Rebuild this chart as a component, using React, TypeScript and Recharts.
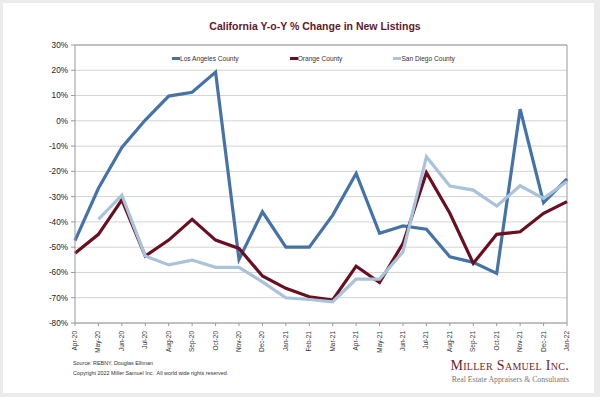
import React from 'react';
import { LineChart, Line, XAxis, YAxis, CartesianGrid, ReferenceLine } from 'recharts';

const categories = ['Apr-20','May-20','Jun-20','Jul-20','Aug-20','Sep-20','Oct-20','Nov-20','Dec-20','Jan-21','Feb-21','Mar-21','Apr-21','May-21','Jun-21','Jul-21','Aug-21','Sep-21','Oct-21','Nov-21','Dec-21','Jan-22'];
const losAngeles = [-47.4,-26.7,-10.5,0.3,9.8,11.3,19.3,-54.8,-36,-50,-50,-37.3,-20.8,-44.5,-41.6,-42.9,-53.8,-56,-60.4,4.6,-32.4,-23];
const orange = [-52.4,-44.9,-31.3,-53.5,-47.2,-39,-47.2,-50.5,-61.4,-66.3,-69.6,-70.9,-57.5,-64,-48.5,-20.5,-36.6,-56.4,-44.9,-43.9,-36.6,-32];
const sanDiego: (number | null)[] = [null,-39,-29.4,-53.5,-57,-55.1,-58,-58,-63.7,-70,-70.7,-71.6,-62.6,-62.6,-51.8,-14.2,-25.8,-27.4,-33.7,-25.7,-30.7,-24];
const yTicks = [30,20,10,0,-10,-20,-30,-40,-50,-60,-70,-80];

const seriesNames = ['Los Angeles County', 'Orange County', 'San Diego County'];
const seriesColors = ['#4573a7', '#6a0f22', '#a8c3da'];

const data = categories.map((c, i) => ({
  month: c,
  la: losAngeles[i],
  oc: orange[i],
  sd: sanDiego[i],
}));

const FONT = '"Liberation Sans", Arial, sans-serif';

const XTick = (props: any) => {
  const { x, y, payload } = props;
  return (
    <text
      transform={`translate(${x + 2},${y + 3}) rotate(-90)`}
      textAnchor="end"
      fontSize={6.5}
      fill="#333"
      fontFamily={FONT}
    >
      {payload.value}
    </text>
  );
};

export default function App() {
  return (
    <div style={{ position: 'fixed', left: 0, top: 0, width: 600, height: 397, background: '#ebebeb', overflow: 'hidden' }}>
      <div style={{ position: 'absolute', left: 3, top: 3, width: 591, height: 390, background: '#fff' }} />
      <div style={{ position: 'absolute', left: 0, top: 0 }}>
        <LineChart width={600} height={397} data={data} margin={{ top: 45, right: 33, bottom: 44, left: 0 }}>
          <CartesianGrid vertical={false} stroke="#d3d3d3" strokeWidth={1} />
          <XAxis
            dataKey="month"
            scale="point"
            padding={{ left: 0, right: 0 }}
            interval={0}
            tick={<XTick />}
            tickLine={{ stroke: '#999' }}
            tickSize={3}
            axisLine={{ stroke: '#999' }}
            height={30}
          />
          <YAxis
            width={75}
            domain={[-80, 30]}
            ticks={yTicks}
            interval={0}
            tickFormatter={(v: number) => `${v}%`}
            tick={{ fontSize: 8.2, fill: '#222', fontFamily: FONT }}
            tickLine={{ stroke: '#999' }}
            tickSize={4}
            tickMargin={3}
            axisLine={{ stroke: '#999' }}
          />
          <ReferenceLine x="Jan-22" stroke="#999" strokeWidth={1} />
          <ReferenceLine y={30} stroke="#999" strokeWidth={1} />
          <Line dataKey="la" name={seriesNames[0]} stroke={seriesColors[0]} strokeWidth={3.2} dot={false} isAnimationActive={false} />
          <Line dataKey="oc" name={seriesNames[1]} stroke={seriesColors[1]} strokeWidth={3.2} dot={false} isAnimationActive={false} />
          <Line dataKey="sd" name={seriesNames[2]} stroke={seriesColors[2]} strokeWidth={3.2} dot={false} isAnimationActive={false} />
        </LineChart>
      </div>
      <div style={{ position: 'absolute', top: 55, left: 172, display: 'flex', gap: 51, fontFamily: FONT, fontSize: 6.6, color: '#333', alignItems: 'center' }}>
        {seriesNames.map((n, i) => (
          <div key={n} style={{ display: 'flex', alignItems: 'center' }}>
            <span style={{ display: 'inline-block', width: 8, height: 3, background: seriesColors[i] }} />
            <span>{n}</span>
          </div>
        ))}
      </div>
      <div style={{ position: 'absolute', left: 0, width: 630, top: 20, textAlign: 'center', fontFamily: FONT, fontWeight: 'bold', fontSize: 10.5, color: '#5e1a2b' }}>
        California Y-o-Y % Change in New Listings
      </div>
      <div style={{ position: 'absolute', left: 73, top: 358, fontFamily: FONT, fontSize: 5.4, color: '#333', lineHeight: '10px' }}>
        <div>Source: REBNY, Douglas Elliman</div>
        <div>Copyright 2022 Miller Samuel Inc.&nbsp; All world wide rights reserved.</div>
      </div>
      <div style={{ position: 'absolute', right: 31, top: 357, textAlign: 'right', fontFamily: '"Liberation Serif", "Times New Roman", serif' }}>
        <div style={{ fontSize: 14, color: '#6e1f2c', fontVariant: 'small-caps', letterSpacing: 0.3, lineHeight: '17px' }}>Miller Samuel Inc.</div>
        <div style={{ fontSize: 7.8, color: '#777', lineHeight: '12px' }}>Real Estate Appraisers &amp; Consultants</div>
      </div>
    </div>
  );
}
